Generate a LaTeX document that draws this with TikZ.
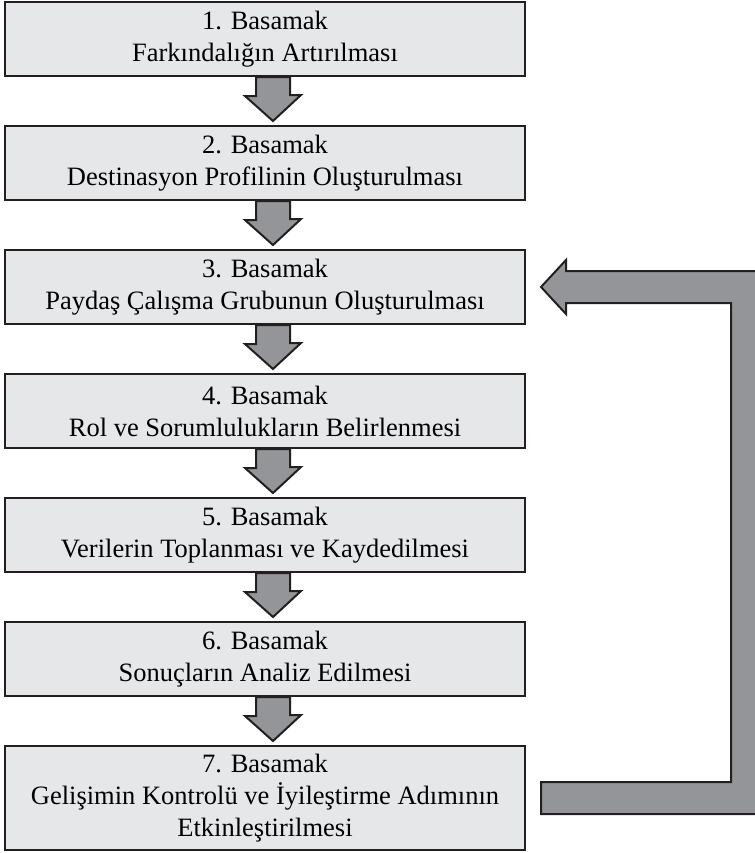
\documentclass[tikz,border=0pt]{standalone}
\usepackage{fontspec}
\setmainfont{Liberation Serif}
\usetikzlibrary{calc, positioning}

\definecolor{boxgray}{HTML}{E6E7E8}
\definecolor{arrowgray}{HTML}{939598}
\definecolor{edge}{HTML}{231F20}

\begin{document}
\begin{tikzpicture}[x=1bp, y=-1bp]
  \tikzset{
   stepbox/.style={draw=edge, line width=2bp, fill=boxgray, minimum width=520bp,
    minimum height=74bp, inner sep=0pt, align=center, font=\fontsize{26.6}{32}\selectfont},
   blockarrow/.style={draw=edge, line width=2bp, fill=arrowgray, line join=miter},
  }
  \useasboundingbox (0,0) rectangle (755,853);
  \clip (0,0) rectangle (755,853);

  \foreach \title/\y/\h [count=\i] in {
   Farkındalığın Artırılması/39/74,
   Destinasyon Profilinin Oluşturulması/163/74,
   Paydaş Çalışma Grubunun Oluşturulması/287/74,
   Rol ve Sorumlulukların Belirlenmesi/411/74,
   Verilerin Toplanması ve Kaydedilmesi/535/74,
   Sonuçların Analiz Edilmesi/659/74,
   Gelişimin Kontrolü ve İyileştirme Adımının\\Etkinleştirilmesi/798/104
  } {
   \node [stepbox, minimum height=\h bp] (b\i) at (265,\y) {\i. Basamak\\\title};
  }

  % down arrows
  \foreach \i in {1,...,6} {
   \pgfmathtruncatemacro{\j}{\i+1}
   \draw [blockarrow]
    ($(b\i.south)+(-9,0)$) -- ++(0,19) -- ++(-11,0)
    -- ($(b\j.north)+(8,-4)$) -- ++(28,-26) -- ++(-11,0)
    -- ($(b\i.south)+(25,0)$) -- cycle;
  }

  % feedback from step 7 to step 3
  \coordinate (ft) at ($(b3.east)+(15,0)$);
  \coordinate (fb) at ($(b7.east)+(15,0)$);
  \draw [blockarrow]
   (ft) -- ++(25,-27) -- ++(0,11) -- ++(197,0)
   -- ($(fb)+(222,16)$) -- ++(-222,0) -- ++(0,-32) -- ++(190,0)
   -- ($(ft)+(190,16)$) -- ++(-165,0) -- ++(0,11) -- cycle;
\end{tikzpicture}
\end{document}
